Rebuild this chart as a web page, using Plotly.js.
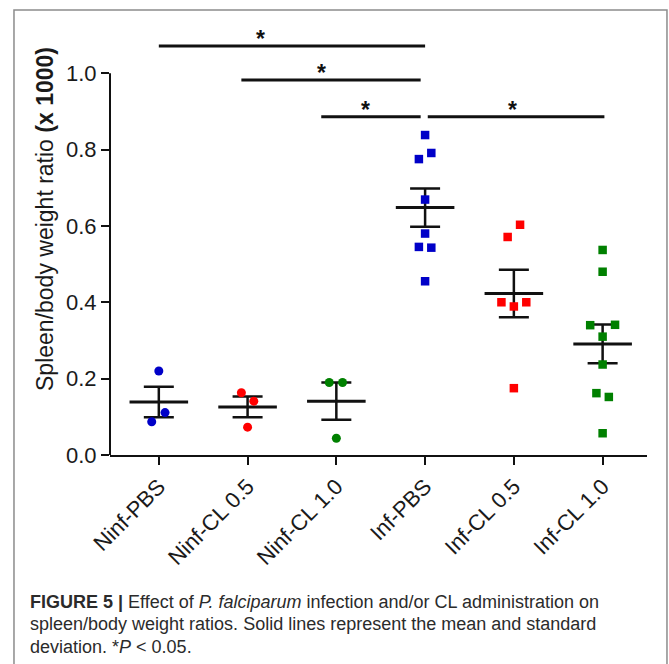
<!DOCTYPE html>
<html>
<head>
<meta charset="utf-8">
<script src="https://cdn.plot.ly/plotly-3.0.1.min.js"></script>
<style>
  html, body { margin: 0; padding: 0; background: #ffffff; }
  #chart { width: 669px; height: 664px; }
</style>
</head>
<body>
<div id="chart"></div>
<script>
// ---- Data ----
const categories = ['Ninf-PBS', 'Ninf-CL 0.5', 'Ninf-CL 1.0', 'Inf-PBS', 'Inf-CL 0.5', 'Inf-CL 1.0'];
const ninfPBS  = [0.220, 0.111, 0.087];
const ninfCL05 = [0.163, 0.141, 0.073];
const ninfCL10 = [0.190, 0.190, 0.044];
const infPBS   = [0.838, 0.791, 0.775, 0.669, 0.580, 0.545, 0.543, 0.455];
const infCL05  = [0.603, 0.571, 0.400, 0.400, 0.389, 0.175];
const infCL10  = [0.537, 0.480, 0.340, 0.341, 0.310, 0.237, 0.162, 0.152, 0.057];
const means    = [0.139, 0.126, 0.141, 0.648, 0.423, 0.291];
const errs     = [0.040, 0.027, 0.049, 0.050, 0.062, 0.051];
const yTicks   = [0.0, 0.2, 0.4, 0.6, 0.8, 1.0];

// significance comparisons: [from category pos, to category pos, level, star pos]
const sigFrom  = [0.00, 0.93, 1.83, 3.03];
const sigTo    = [3.00, 2.95, 2.95, 5.02];
const sigLevel = [1.071, 0.982, 0.886, 0.886];
const sigStarX = [1.14, 1.83, 2.33, 3.98];

// ---- Presentation (scatter offsets, colours, symbols) ----
const groups = [ninfPBS, ninfCL05, ninfCL10, infPBS, infCL05, infCL10];
const jitter = [
  [0, 0.07, -0.08],
  [-0.07, 0.07, 0],
  [-0.08, 0.07, 0],
  [0, 0.07, -0.07, 0, 0, -0.07, 0.07, 0],
  [0.07, -0.07, -0.14, 0.14, 0, 0],
  [0, 0, -0.14, 0.14, 0, 0, -0.07, 0.07, 0]
];
const colors  = ['#0000c8', '#ff0000', '#008000', '#0000c8', '#ff0000', '#008000'];
const symbols = ['circle', 'circle', 'circle', 'square', 'square', 'square'];
const sizes   = [9, 9, 9, 8.5, 8.5, 8.5];

const catPos = categories.map((c, i) => i);
const FONT = 'Liberation Sans, Arial, Helvetica, sans-serif';

const traces = [];
// mean +/- error
traces.push({
  type: 'scatter', mode: 'markers',
  x: catPos, y: means,
  marker: { opacity: 0, size: 2 },
  error_y: { type: 'data', array: errs, visible: true, color: '#111', thickness: 2.5, width: 15 },
  error_x: { type: 'constant', value: 0.33, visible: true, color: '#111', thickness: 3, width: 0 },
  showlegend: false, hoverinfo: 'skip'
});
// individual points
groups.forEach((vals, g) => {
  traces.push({
    type: 'scatter', mode: 'markers',
    x: vals.map((v, k) => g + jitter[g][k]),
    y: vals,
    marker: { color: colors[g], symbol: symbols[g], size: sizes[g], line: { width: 0 } },
    showlegend: false
  });
});

const shapes = [];
// y axis line from 0 to 1.0
shapes.push({ type: 'line', xref: 'paper', yref: 'y', x0: 0, x1: 0, y0: 0, y1: 1.0,
  line: { color: '#111', width: 2 } });
// significance bars
sigFrom.forEach((f, i) => {
  shapes.push({ type: 'line', xref: 'x', yref: 'y', x0: f, x1: sigTo[i], y0: sigLevel[i], y1: sigLevel[i],
    line: { color: '#111', width: 3 } });
});
// figure border
shapes.push({ type: 'rect', xref: 'paper', yref: 'paper', x0: -0.1788, x1: 1.0372, y0: 1.0595, y1: -0.53,
  line: { color: '#8c8c8c', width: 1.5 }, fillcolor: 'rgba(0,0,0,0)' });

const annotations = [];
sigStarX.forEach((sx, i) => {
  annotations.push({ x: sx, y: sigLevel[i], xref: 'x', yref: 'y', text: '<b>*</b>', showarrow: false,
    xanchor: 'center', yanchor: 'middle', yshift: 7,
    font: { family: FONT, size: 23, color: '#111' } });
});
// y-axis title
annotations.push({ xref: 'paper', yref: 'paper', x: -0.121, y: 0.562, textangle: -90,
  text: 'Spleen/body weight ratio <b>(x 1000)</b>', showarrow: false,
  xanchor: 'center', yanchor: 'middle', font: { family: FONT, size: 23, color: '#1a1a1a' } });
// caption
const capLines = [
  '<b>FIGURE 5 |</b> Effect of <i>P. falciparum</i> infection and/or CL administration on',
  'spleen/body weight ratios. Solid lines represent the mean and standard',
  'deviation. *<i>P</i> &lt; 0.05.'
];
const capCenters = [601.5, 624, 646.5];
capLines.forEach((t, i) => {
  annotations.push({ xref: 'paper', yref: 'paper', x: (28 - 110) / 537, y: (455 - capCenters[i]) / 420,
    text: t, showarrow: false, xanchor: 'left', yanchor: 'middle', align: 'left',
    font: { family: FONT, size: 18, color: '#2b2b2b' } });
});

const layout = {
  width: 669, height: 664,
  margin: { l: 110, r: 22, t: 35, b: 209 },
  paper_bgcolor: '#ffffff', plot_bgcolor: '#ffffff',
  showlegend: false,
  xaxis: {
    range: [-0.55, 5.5], tickmode: 'array', tickvals: catPos, ticktext: categories,
    tickangle: -45, ticks: 'outside', ticklen: 8, tickwidth: 2, tickcolor: '#111',
    showline: true, linecolor: '#111', linewidth: 2, showgrid: false, zeroline: false,
    tickfont: { family: FONT, size: 22, color: '#1a1a1a' }
  },
  yaxis: {
    range: [0, 1.1], tickmode: 'array', tickvals: yTicks, ticktext: yTicks.map(v => v.toFixed(1)),
    ticks: 'outside', ticklen: 8, tickwidth: 2, tickcolor: '#111',
    showline: false, showgrid: false, zeroline: false,
    tickfont: { family: FONT, size: 22, color: '#1a1a1a' }
  },
  shapes: shapes,
  annotations: annotations
};

Plotly.newPlot('chart', traces, layout, { displayModeBar: false, staticPlot: true });
</script>
</body>
</html>
